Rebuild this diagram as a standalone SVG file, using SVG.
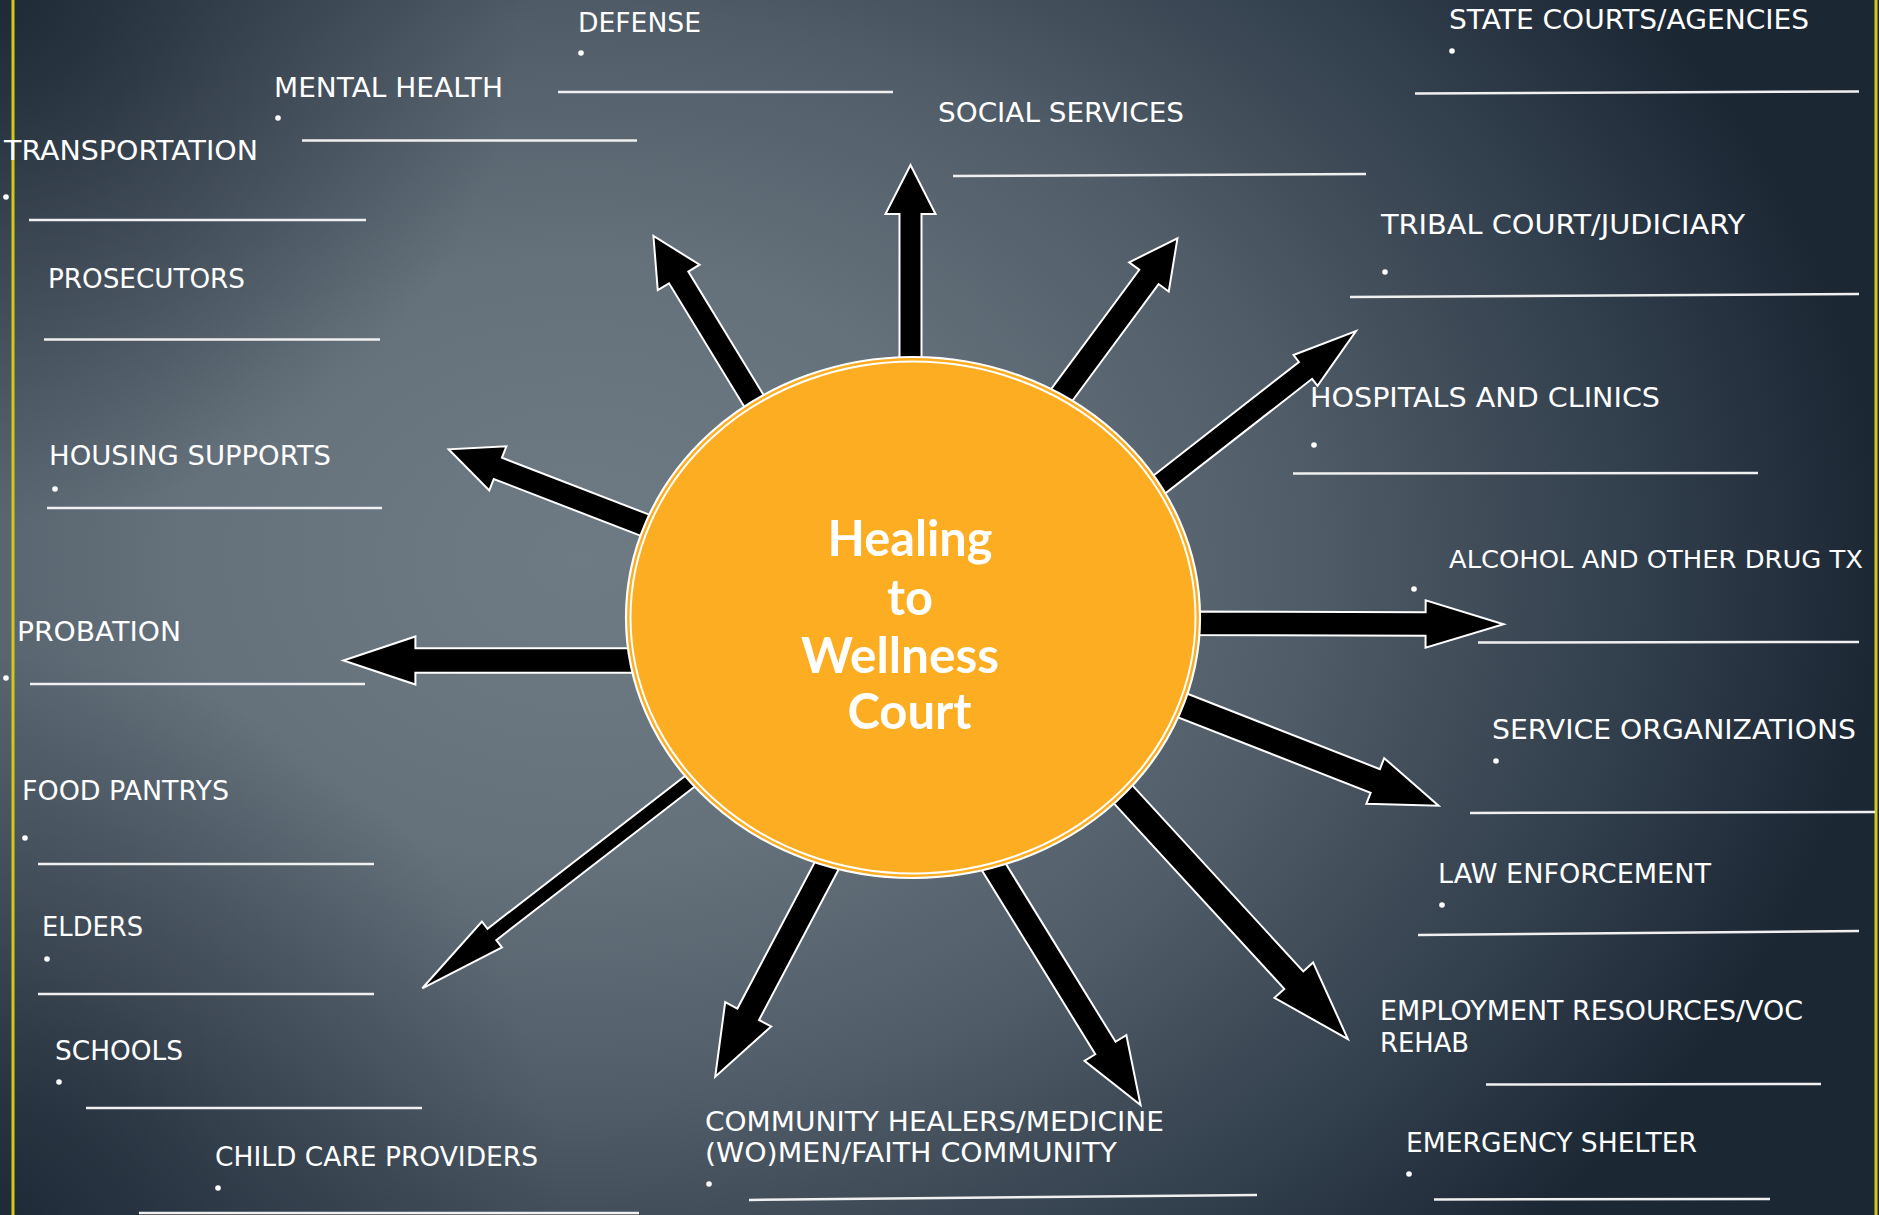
<svg xmlns="http://www.w3.org/2000/svg" width="1879" height="1215" viewBox="0 0 1879 1215">
<defs>
<radialGradient id="bg" gradientUnits="userSpaceOnUse" cx="580" cy="560" r="1300" gradientTransform="translate(580 560) scale(1 0.75) translate(-580 -560)">
<stop offset="0" stop-color="#6e7b85"/>
<stop offset="0.3" stop-color="#65717b"/>
<stop offset="0.55" stop-color="#515d68"/>
<stop offset="0.8" stop-color="#33404d"/>
<stop offset="1" stop-color="#1c2734"/>
</radialGradient>
<radialGradient id="vtl" gradientUnits="userSpaceOnUse" cx="0" cy="0" r="520">
<stop offset="0" stop-color="#1c2734" stop-opacity="0.9"/>
<stop offset="0.45" stop-color="#1c2734" stop-opacity="0.45"/>
<stop offset="1" stop-color="#1c2734" stop-opacity="0"/>
</radialGradient>
<radialGradient id="vbl" gradientUnits="userSpaceOnUse" cx="0" cy="1215" r="560">
<stop offset="0" stop-color="#1c2734" stop-opacity="0.85"/>
<stop offset="0.45" stop-color="#1c2734" stop-opacity="0.4"/>
<stop offset="1" stop-color="#1c2734" stop-opacity="0"/>
</radialGradient>
<style>
.lbl{font-family:"DejaVu Sans","Noto Sans",sans-serif;font-size:27px;fill:#ffffff}
.ttl{font-family:Lato,"Noto Sans",sans-serif;font-weight:700;font-size:50px;fill:#ffffff;text-anchor:middle}
.ul{stroke:#f0f0f0;stroke-width:2.5;fill:none}
.dot{fill:#ffffff}
.arr{fill:#000000;stroke:#ffffff;stroke-width:2;stroke-linejoin:miter}
</style>
</defs>
<rect x="0" y="0" width="1879" height="1215" fill="url(#bg)"/>
<rect x="0" y="0" width="1879" height="1215" fill="url(#vtl)"/>
<rect x="0" y="0" width="1879" height="1215" fill="url(#vbl)"/>
<rect x="11.5" y="0" width="3" height="1215" fill="#d2c81c"/>
<rect x="1874.5" y="0" width="3" height="1215" fill="#d2c81c"/>

<g id="connectors">
<polygon class="arr" transform="translate(910.5 380) rotate(-90)" points="-10,-11 166,-11 166,-25 215,0 166,25 166,11 -10,11"/>
<polygon class="arr" transform="translate(760.3 411.3) rotate(-121.37)" points="-10,-11.3 156.8,-11.3 156.8,-24.5 205.3,0 156.8,24.5 156.8,11.3 -10,11.3"/>
<polygon class="arr" transform="translate(1055.6 403.3) rotate(-53.55)" points="-10,-12 157.1,-12 157.1,-24.6 205.1,0 157.1,24.6 157.1,12 -10,12"/>
<polygon class="arr" transform="translate(1148.8 492.7) rotate(-37.97)" points="-10,-10.7 198.8,-10.7 198.8,-19.5 262.8,0 198.8,19.5 198.8,10.7 -10,10.7"/>
<polygon class="arr" transform="translate(1185 623.3) rotate(0.18)" points="-10,-11.7 240.6,-11.7 240.6,-23.7 318.6,0 240.6,23.7 240.6,11.7 -10,11.7"/>
<polygon class="arr" transform="translate(1180 704.5) rotate(21.38)" points="-10,-12.7 209.7,-12.7 209.7,-24.5 277.7,0 209.7,24.5 209.7,12.7 -10,12.7"/>
<polygon class="arr" transform="translate(1126 797.5) rotate(47.43)" points="-10,-12.9 248,-12.9 248,-26.2 328,0 248,26.2 248,12.9 -10,12.9"/>
<polygon class="arr" transform="translate(996 870.5) rotate(58.35)" points="-10,-11.9 208.5,-11.9 208.5,-24.6 275.5,0 208.5,24.6 208.5,11.9 -10,11.9"/>
<polygon class="arr" transform="translate(833.4 853.1) rotate(117.86)" points="-10,-12.25 182.3,-12.25 182.3,-26 252.9,0 182.3,26 182.3,12.25 -10,12.25"/>
<polygon class="arr" transform="translate(701.3 772.5) rotate(142.28)" points="-10,-7.2 264.7,-7.2 264.7,-16.4 352.7,0 264.7,16.4 264.7,7.2 -10,7.2"/>
<polygon class="arr" transform="translate(645 660.5) rotate(180)" points="-10,-12.3 229.6,-12.3 229.6,-24 301.6,0 229.6,24 229.6,12.3 -10,12.3"/>
<polygon class="arr" transform="translate(656.5 529.7) rotate(-158.86)" points="-10,-11.4 170.1,-11.4 170.1,-23.7 222.9,0 170.1,23.7 170.1,11.4 -10,11.4"/>
</g>

<g id="hub">
<ellipse cx="913" cy="617.5" rx="287" ry="260.5" fill="#fdad21" stroke="#ffffff" stroke-width="2.2"/>
<ellipse cx="913" cy="617.5" rx="282.5" ry="256" fill="none" stroke="#ffffff" stroke-width="2"/>
<text class="ttl" x="910" y="556" textLength="165" lengthAdjust="spacingAndGlyphs">Healing</text>
<text class="ttl" x="910" y="615" textLength="46" lengthAdjust="spacingAndGlyphs">to</text>
<text class="ttl" x="900" y="673" textLength="198" lengthAdjust="spacingAndGlyphs">Wellness</text>
<text class="ttl" x="909.5" y="729" textLength="124" lengthAdjust="spacingAndGlyphs">Court</text>
</g>

<g id="n-defense">
<text class="lbl" x="578" y="32" textLength="123" lengthAdjust="spacingAndGlyphs">DEFENSE</text>
<circle class="dot" cx="581" cy="53" r="2.8"/>
<line class="ul" x1="558" y1="92" x2="893" y2="92"/>
</g>
<g id="n-mental-health">
<text class="lbl" x="274" y="97" textLength="229" lengthAdjust="spacingAndGlyphs">MENTAL HEALTH</text>
<circle class="dot" cx="278" cy="118" r="2.8"/>
<line class="ul" x1="302" y1="140.5" x2="637" y2="140.5"/>
</g>
<g id="n-transportation">
<text class="lbl" x="4" y="160" textLength="254" lengthAdjust="spacingAndGlyphs">TRANSPORTATION</text>
<circle class="dot" cx="6" cy="197" r="2.8"/>
<line class="ul" x1="29" y1="220" x2="366" y2="220"/>
</g>
<g id="n-prosecutors">
<text class="lbl" x="48" y="288" textLength="197" lengthAdjust="spacingAndGlyphs">PROSECUTORS</text>
<line class="ul" x1="44" y1="339.5" x2="380" y2="339.5"/>
</g>
<g id="n-housing">
<text class="lbl" x="49" y="465" textLength="282" lengthAdjust="spacingAndGlyphs">HOUSING SUPPORTS</text>
<circle class="dot" cx="55" cy="489" r="2.8"/>
<line class="ul" x1="47" y1="508" x2="382" y2="508"/>
</g>
<g id="n-probation">
<text class="lbl" x="17" y="641" textLength="164" lengthAdjust="spacingAndGlyphs">PROBATION</text>
<circle class="dot" cx="6" cy="678" r="2.8"/>
<line class="ul" x1="30" y1="684" x2="365" y2="684"/>
</g>
<g id="n-food">
<text class="lbl" x="22" y="800" textLength="207" lengthAdjust="spacingAndGlyphs">FOOD PANTRYS</text>
<circle class="dot" cx="25" cy="838" r="2.8"/>
<line class="ul" x1="38" y1="864" x2="374" y2="864"/>
</g>
<g id="n-elders">
<text class="lbl" x="42" y="936" textLength="101" lengthAdjust="spacingAndGlyphs">ELDERS</text>
<circle class="dot" cx="47" cy="959" r="2.8"/>
<line class="ul" x1="38" y1="994" x2="374" y2="994"/>
</g>
<g id="n-schools">
<text class="lbl" x="55" y="1060" textLength="128" lengthAdjust="spacingAndGlyphs">SCHOOLS</text>
<circle class="dot" cx="59" cy="1082" r="2.8"/>
<line class="ul" x1="86" y1="1108" x2="422" y2="1108"/>
</g>
<g id="n-childcare">
<text class="lbl" x="215" y="1166" textLength="323" lengthAdjust="spacingAndGlyphs">CHILD CARE PROVIDERS</text>
<circle class="dot" cx="218" cy="1188" r="2.8"/>
<line class="ul" x1="139" y1="1213" x2="639" y2="1213"/>
</g>
<g id="n-community">
<text class="lbl" x="705" y="1131" textLength="459" lengthAdjust="spacingAndGlyphs">COMMUNITY HEALERS/MEDICINE</text>
<text class="lbl" x="705" y="1162" textLength="412" lengthAdjust="spacingAndGlyphs">(WO)MEN/FAITH COMMUNITY</text>
<circle class="dot" cx="709" cy="1184" r="2.8"/>
<line class="ul" x1="749" y1="1200" x2="1257" y2="1195"/>
</g>
<g id="n-social">
<text class="lbl" x="938" y="122" textLength="246" lengthAdjust="spacingAndGlyphs">SOCIAL SERVICES</text>
<line class="ul" x1="953" y1="176" x2="1366" y2="174"/>
</g>
<g id="n-state">
<text class="lbl" x="1449" y="29" textLength="360" lengthAdjust="spacingAndGlyphs">STATE COURTS/AGENCIES</text>
<circle class="dot" cx="1452" cy="51" r="2.8"/>
<line class="ul" x1="1415" y1="93.5" x2="1859" y2="91.5"/>
</g>
<g id="n-tribal">
<text class="lbl" x="1381" y="234" textLength="364" lengthAdjust="spacingAndGlyphs">TRIBAL COURT/JUDICIARY</text>
<circle class="dot" cx="1385" cy="272" r="2.8"/>
<line class="ul" x1="1350" y1="297" x2="1859" y2="294"/>
</g>
<g id="n-hospitals">
<text class="lbl" x="1310" y="407" textLength="350" lengthAdjust="spacingAndGlyphs">HOSPITALS AND CLINICS</text>
<circle class="dot" cx="1314" cy="445" r="2.8"/>
<line class="ul" x1="1293" y1="473.5" x2="1758" y2="473"/>
</g>
<g id="n-alcohol">
<text class="lbl" x="1449" y="568" font-size="25.5" style="font-size:25.5px" textLength="414" lengthAdjust="spacingAndGlyphs">ALCOHOL AND OTHER DRUG TX</text>
<circle class="dot" cx="1414" cy="589" r="2.8"/>
<line class="ul" x1="1478" y1="642.5" x2="1859" y2="642"/>
</g>
<g id="n-service">
<text class="lbl" x="1492" y="739" textLength="364" lengthAdjust="spacingAndGlyphs">SERVICE ORGANIZATIONS</text>
<circle class="dot" cx="1496" cy="761" r="2.8"/>
<line class="ul" x1="1470" y1="813" x2="1875" y2="812"/>
</g>
<g id="n-law">
<text class="lbl" x="1438" y="883" textLength="273" lengthAdjust="spacingAndGlyphs">LAW ENFORCEMENT</text>
<circle class="dot" cx="1442" cy="905" r="2.8"/>
<line class="ul" x1="1418" y1="935" x2="1859" y2="931"/>
</g>
<g id="n-employment">
<text class="lbl" x="1380" y="1020" textLength="423" lengthAdjust="spacingAndGlyphs">EMPLOYMENT RESOURCES/VOC</text>
<text class="lbl" x="1380" y="1052" textLength="89" lengthAdjust="spacingAndGlyphs">REHAB</text>
<line class="ul" x1="1486" y1="1084.5" x2="1821" y2="1084"/>
</g>
<g id="n-emergency">
<text class="lbl" x="1406" y="1152" textLength="291" lengthAdjust="spacingAndGlyphs">EMERGENCY SHELTER</text>
<circle class="dot" cx="1409" cy="1174" r="2.8"/>
<line class="ul" x1="1434" y1="1199.5" x2="1770" y2="1199"/>
</g>
</svg>
